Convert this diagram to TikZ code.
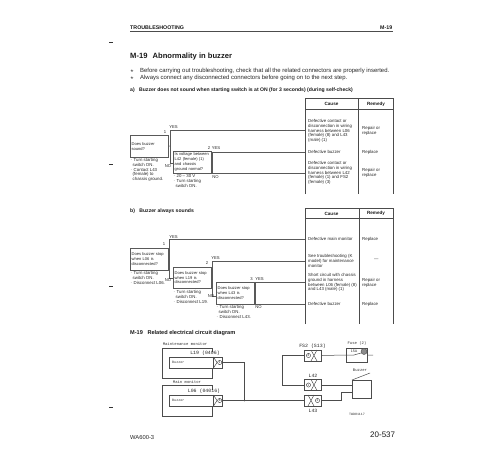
\documentclass[tikz,border=0pt]{standalone}
\usepackage{fontspec}
\setmainfont{Liberation Sans}
\setmonofont{Liberation Mono}
\tikzset{
  txt/.style={anchor=north west,inner sep=0,align=left,text=black!85,font=\fontsize{4.35}{4.85}\selectfont},
  head/.style={anchor=west,inner sep=0,text=black!90,font=\bfseries\fontsize{5.1}{5.1}\selectfont},
  body/.style={anchor=west,inner sep=0,text=black!85,font=\fontsize{5.95}{5.95}\selectfont},
  thead/.style={anchor=center,inner sep=0,text=black!90,font=\bfseries\fontsize{4.6}{4.6}\selectfont},
  flag/.style={anchor=center,inner sep=0,text=black!85,font=\fontsize{4.2}{4.2}\selectfont},
  qbox/.style={draw=black!65,line width=0.8pt,anchor=north west,inner xsep=1.25pt,inner ysep=0.5pt,align=left,
    text=black!85,font=\fontsize{4.05}{4.85}\selectfont,minimum height=21.5pt,text width=35pt,minimum width=37.5pt},
  flow/.style={draw=black!65,line width=0.55pt},
  rule/.style={draw=black!70,line width=0.55pt},
  wire/.style={draw=black!70,line width=0.5pt},
  tiny/.style={anchor=center,inner sep=0,text=black!80,font=\ttfamily\fontsize{3.9}{3.9}\selectfont},
  wlabel/.style={anchor=center,inner sep=0,text=black!85,font=\ttfamily\fontsize{4.9}{4.9}\selectfont},
  pin/.style={circle,draw=black!75,line width=0.45pt,inner sep=0,minimum size=4.2pt,text=black!85,font=\fontsize{3}{3}\selectfont},
  conn/.style={draw=black!70,line width=0.5pt,inner sep=0,minimum height=11pt},
}
\begin{document}
\begin{tikzpicture}[x=1pt,y=-1pt]
  \useasboundingbox (0,0) rectangle (500,450);
  % page head
  \node[head,font=\bfseries\fontsize{5.3}{5.3}\selectfont] (pagehead) at (130,27.5) {TROUBLESHOOTING};
  \node[head,font=\bfseries\fontsize{5.3}{5.3}\selectfont] (pagenum) at (380,27.5) {M-19};
  \draw[black!70,line width=0.7pt] (130,31.5) -- (393,31.5);
  \foreach \my in {42,164,286,407}{
    \draw[black!80,line width=0.6pt] (109,\my) -- (113,\my);
  }
  \node[anchor=west,inner sep=0,font=\bfseries\fontsize{7.6}{7.6}\selectfont,text=black!90] (title) at (130,57) {M-19\hspace{3pt} Abnormality in buzzer};
  \node[body] (star1) at (130,71) {$\star$};
  \node[body] (star2) at (130,78) {$\star$};
  \node[body] (note1) at (140,71) {Before carrying out troubleshooting, check that all the related connectors are properly inserted.};
  \node[body] (note2) at (140,78) {Always connect any disconnected connectors before going on to the next step.};
  \node[head] (seca) at (130,90) {a)\hspace{3pt} Buzzer does not sound when starting switch is at ON (for 3 seconds) (during self-check)};
  \node[head] (secb) at (130,211) {b)\hspace{3pt} Buzzer always sounds};
  \node[head,font=\bfseries\fontsize{5.6}{5.6}\selectfont] (secc) at (130,333) {M-19\hspace{3pt} Related electrical circuit diagram};

  % tables
  \draw[rule] (305,194) -- (305,98) -- (393,98) -- (393,194);
  \draw[rule] (305,109) -- (393,109);
  \draw[rule] (358,98) -- (358,194);
  \node[thead] (causea) at (331.5,104) {Cause};
  \node[thead] (remedya) at (376,104) {Remedy};
  \draw[rule] (305,324) -- (305,208) -- (393,208) -- (393,324);
  \draw[rule] (305,218) -- (393,218);
  \draw[rule] (359,208) -- (359,324);
  \node[thead] (causeb) at (331.5,213.5) {Cause};
  \node[thead] (remedyb) at (376,213.5) {Remedy};

  % flow a
  \node[qbox] (qa1) at (130,135) {Does buzzer\\sound?};
  \node[qbox] (qa2) at (173,151) {Is voltage between\\L42 (female) (1)\\and chassis\\ground normal?};
  \node[txt] (sa1) at (130,158) {$\cdot$ Turn starting\\\hspace{2.5pt}switch ON.\\$\cdot$ Contact L43\\\hspace{2.5pt}(female) to\\\hspace{2.5pt}chassis ground.};
  \node[txt] (sa2) at (173,174.5) {$\cdot$ 20 -- 30 V\\$\cdot$ Turn starting\\\hspace{2.5pt}switch ON.};
  \coordinate (ca1) at (305,130);
  \coordinate (ca2) at (305,152);
  \coordinate (ca3) at (305,173);
  \draw[flow] (qa1.east) -- (170,146);
  \draw[flow] (ca1) -- (170,130) -- (170,163) -- (173,163);
  \draw[flow] (qa2.east) -- (212,162);
  \draw[flow] (ca2) -- (212,152) -- (212,173) -- (ca3);
  \node[flag] (fa1) at (165,132) {1};
  \node[flag] (ya1) at (173.5,127) {YES};
  \node[flag] (na1) at (168,166) {NO};
  \node[flag] (fa2) at (209,148) {2};
  \node[flag] (ya2) at (216,148) {YES};
  \node[flag] (na2) at (215.5,177) {NO};
  \node[txt] (ta1) at (308,119) {Defective contact or\\disconnection in wiring\\harness between L06\\(female) (8) and L43\\(male) (1)};
  \node[txt] (ra1) at (362,126) {Repair or\\replace};
  \node[txt] (ta2) at (308,150) {Defective buzzer};
  \node[txt] (ra2) at (362,150) {Replace};
  \node[txt] (ta3) at (308,161) {Defective contact or\\disconnection in wiring\\harness between L42\\(female) (1) and FS2\\(female) (3)};
  \node[txt] (ra3) at (362,168) {Repair or\\replace};

  % flow b
  \node[qbox] (qb1) at (130,248) {Does buzzer stop\\when L06 is\\disconnected?};
  \node[qbox] (qb2) at (173,266.5) {Does buzzer stop\\when L19 is\\disconnected?};
  \node[qbox] (qb3) at (216,282) {Does buzzer stop\\when L43 is\\disconnected?};
  \node[txt] (sb1) at (130,271) {$\cdot$ Turn starting\\\hspace{2.5pt}switch ON.\\$\cdot$ Disconnect L06.};
  \node[txt] (sb2) at (173,290) {$\cdot$ Turn starting\\\hspace{2.5pt}switch ON.\\$\cdot$ Disconnect L19.};
  \node[txt] (sb3) at (216,305) {$\cdot$ Turn starting\\\hspace{2.5pt}switch ON.\\$\cdot$ Disconnect L43.};
  \coordinate (cb1) at (305,239);
  \coordinate (cb2) at (305,261);
  \coordinate (cb3) at (305,282);
  \coordinate (cb4) at (305,304);
  \draw[flow] (qb1.east) -- (169.5,258.75);
  \draw[flow] (cb1) -- (169.5,239) -- (169.5,278) -- (173,278);
  \draw[flow] (qb2.east) -- (212.5,277.25);
  \draw[flow] (cb2) -- (212.5,261) -- (212.5,296) -- (216,296);
  \draw[flow] (qb3.east) -- (255.5,292.75);
  \draw[flow] (cb3) -- (255.5,282) -- (255.5,304) -- (cb4);
  \node[flag] (fb1) at (164,244.5) {1};
  \node[flag] (yb1) at (173.5,237) {YES};
  \node[flag] (nb1) at (168,280) {NO};
  \node[flag] (fb2) at (207,263) {2};
  \node[flag] (yb2) at (215.5,258) {YES};
  \node[flag] (nb2) at (211,296) {NO};
  \node[flag] (fb3) at (251.5,279.5) {3};
  \node[flag] (yb3) at (259.5,279.5) {YES};
  \node[flag] (nb3) at (258.5,307.5) {NO};
  \node[txt] (tb1) at (308,237) {Defective main monitor};
  \node[txt] (rb1) at (362,237) {Replace};
  \node[txt] (tb2) at (308,254) {See troubleshooting (K\\model) for maintenance\\monitor};
  \node[txt] (rb2) at (374,259) {---};
  \node[txt] (tb3) at (308,273) {Short circuit with chassis\\ground in harness\\between L06 (female) (8)\\and L43 (male) (1)};
  \node[txt] (rb3) at (362,278) {Repair or\\replace};
  \node[txt] (tb4) at (308,302) {Defective buzzer};
  \node[txt] (rb4) at (362,302) {Replace};

  % circuit, monitor side
  \draw[wire] (212,352) -- (212,348) -- (162,348) -- (162,378) -- (212,378) -- (212,368);
  \draw[wire] (212,390) -- (212,385) -- (162,385) -- (162,416) -- (212,416) -- (212,406);
  \node[tiny] (mm) at (185,344) {Maintenance monitor};
  \node[tiny] (mn) at (187,382) {Main monitor};
  \node[wlabel] (l19) at (205,353) {L19 (0406)};
  \node[wlabel] (l06) at (204,391) {L06 (04016)};
  \foreach \part/\cy/\num in {a/362.5/1,b/400.5/8}{
    \node[conn,minimum width=9.5pt] (box\part) at (217.5,\cy) {};
    \node[pin] (pin\part) at (219.7,\cy) {\num};
    \draw[wire] (213.5,\cy-5.5) -- (217,\cy) -- (213.5,\cy+5.5);
    \draw[wire] (213.5,\cy-5.5) -- (169,\cy-5.5) -- (169,\cy+5.5) -- (213.5,\cy+5.5);
    \node[tiny,anchor=west,font=\ttfamily\fontsize{3.4}{3.4}\selectfont] (bz\part) at (172,\cy) {Buzzer};
  }
  % circuit, harness side
  \node[conn,minimum width=17.5pt] (fs2) at (312.7,355.5) {};
  \node[conn,minimum width=17.5pt] (l42) at (312.7,385) {};
  \node[conn,minimum width=17.5pt] (l43) at (312.7,400.5) {};
  \node[pin] (pinf) at (308.5,355.5) {3};
  \node[pin] (pinl) at (308.5,385) {1};
  \node[pin] (pinm) at (317.5,400.5) {1};
  \draw[wire] (311,350) -- (317,361) (311,361) -- (317,350);
  \draw[wire] (311,379.5) -- (317,390.5) (311,390.5) -- (317,379.5);
  \draw[wire] (308,395) -- (314,406) (308,406) -- (314,395);
  \node[wlabel] (lfs2) at (312.5,346) {FS2 (S13)};
  \node[wlabel] (ll42) at (313,376) {L42};
  \node[wlabel] (ll43) at (313,410.5) {L43};
  \node[draw=black!70,line width=0.5pt,inner sep=0,minimum width=21pt,minimum height=14pt] (fuse) at (356.5,355) {};
  \node[tiny] (lfuse) at (357,343) {Fuse (2)};
  \node[draw=black!70,line width=0.5pt,inner sep=0,minimum width=19pt,minimum height=18pt] (buzz) at (361.5,389) {};
  \node[tiny] (lbuzz) at (360,370) {Buzzer};
  \node[tiny,font=\ttfamily\fontsize{3.3}{3.3}\selectfont] (lref) at (357,414) {TWD01117};
  \node[flag,font=\fontsize{3.6}{3.6}\selectfont] (famp) at (354,351.5) {15A};
  \node[circle,draw=black!70,fill=black!45,inner sep=0,minimum size=6pt] (blow) at (364,351.5) {};
  \coordinate (end) at (373,355);
  \draw[wire] (boxa.east) -- (244.5,362.5) -- (244.5,400.5);
  \fill[black!80] (244.5,400.5) circle (0.9);
  \draw[wire] (boxb.east) -- (l43.west);
  \draw[wire] (fs2.west) -- (282,355.5) -- (282,385) -- (l42.west);
  \draw[wire] (fs2.east) -- (fuse.west);
  \draw[wire] (fuse.west) -- (350,355) -- (354,355) -- (361,353) (fuse.east) -- (end);
  \draw[wire] (l42.east) -- (352,385);
  \draw[wire] (l43.east) -- (341,400.5) -- (341,392) -- (352,392);
  \draw[wire] (352,380) -- (370,373);
  % page foot
  \node[anchor=west,inner sep=0,text=black!85,font=\fontsize{5.8}{5.8}\selectfont] (model) at (130,437) {WA600-3};
  \node[anchor=west,inner sep=0,text=black!90,font=\fontsize{8}{8}\selectfont] (pageno) at (370,435) {20-537};
\end{tikzpicture}
\end{document}
